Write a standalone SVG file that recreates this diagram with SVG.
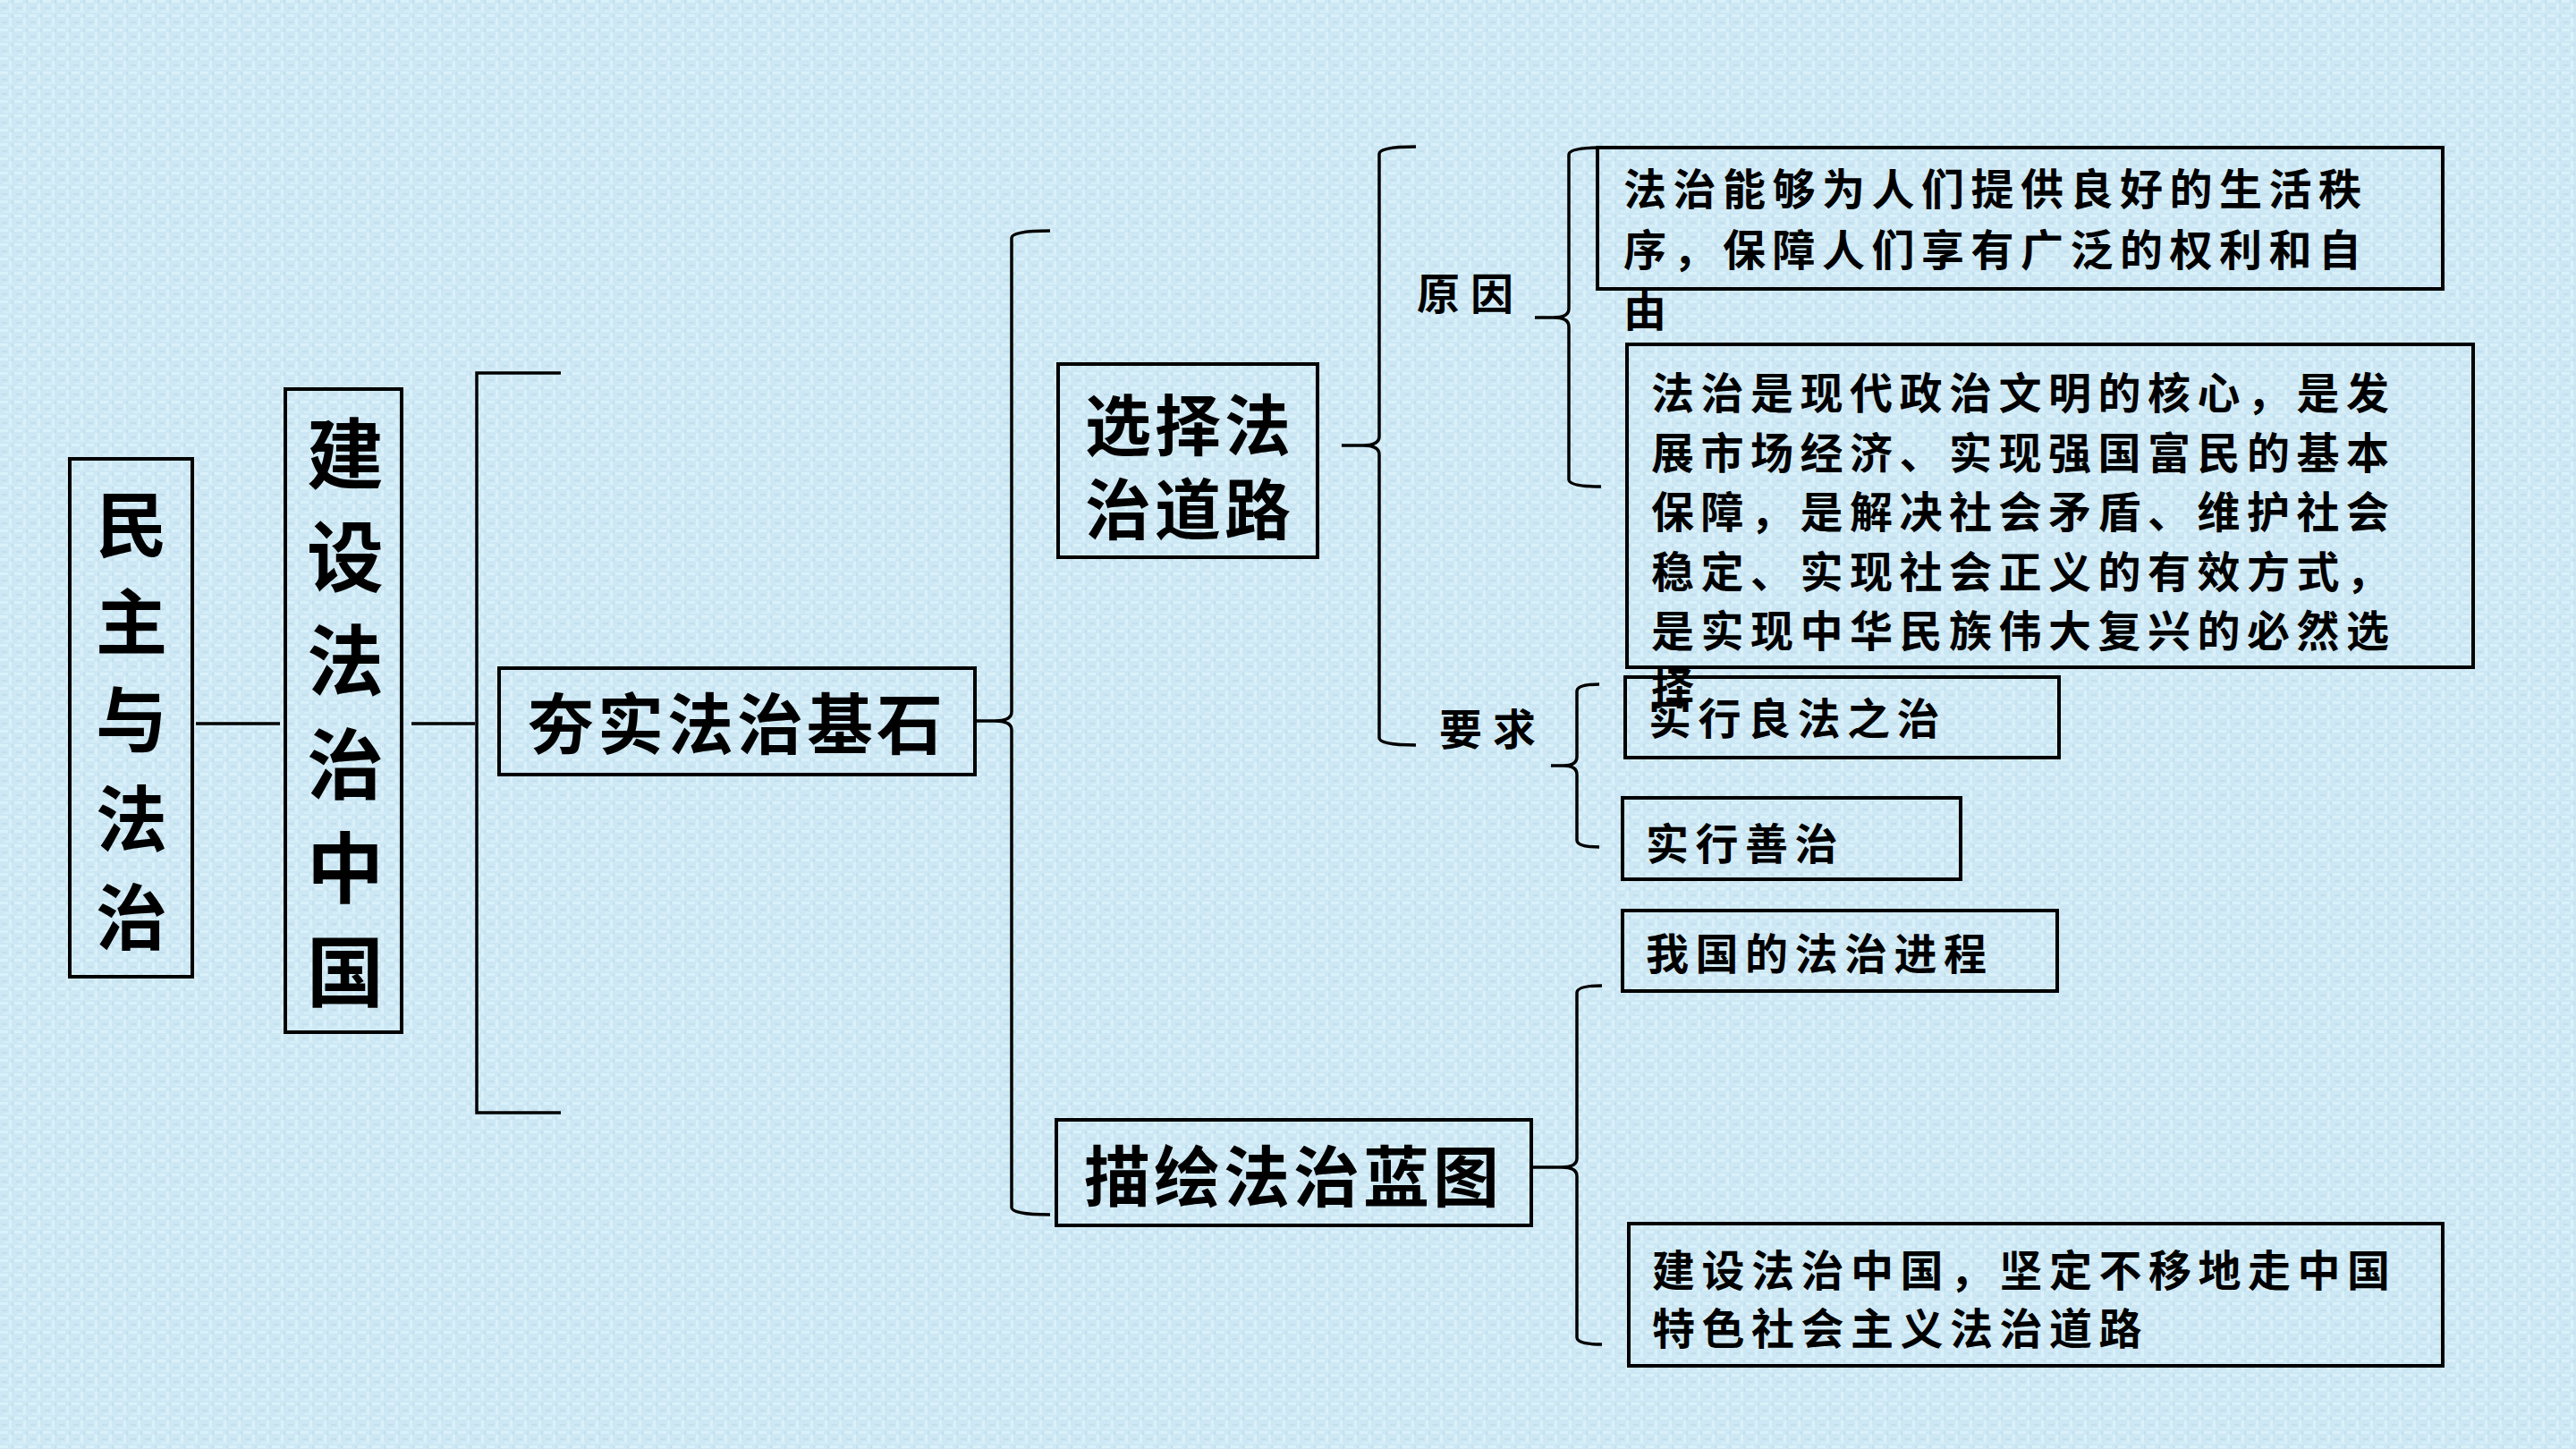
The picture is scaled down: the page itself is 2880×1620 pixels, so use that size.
<svg xmlns="http://www.w3.org/2000/svg" width="2880" height="1620" viewBox="0 0 2880 1620">
<defs>
<pattern id="tex" width="16" height="16" patternUnits="userSpaceOnUse">
<rect width="16" height="16" fill="#cde8f4"/>
<rect x="0" y="0" width="9" height="3" fill="#daf1fa"/>
<rect x="10" y="4" width="3" height="9" fill="#daf1fa"/>
<rect x="2" y="8" width="6" height="2" fill="#c2dfec"/>
<rect x="4" y="12" width="10" height="2" fill="#d6eef8"/>
<rect x="13" y="0" width="2" height="4" fill="#c3e0ee"/>
</pattern>
<style>
.box{fill:none;stroke:#000;stroke-width:4}
.ln{fill:none;stroke:#000;stroke-width:3.5}
.t{font-family:"Noto Sans CJK SC","Noto Sans CJK TC",sans-serif;fill:#000;dominant-baseline:central}
.big{font-size:74px;font-weight:700;letter-spacing:4px}
.vt{font-weight:700;text-anchor:middle}
.mid{text-anchor:middle}
.sm{font-size:48px;font-weight:700;letter-spacing:7.5px}
.lab{font-size:48px;font-weight:700;letter-spacing:12px}
</style>
</defs>
<rect width="2880" height="1620" fill="url(#tex)"/>

<g id="connectors">
<path class="ln" d="M219,809 H313"/>
<path class="ln" d="M460,809 H531"/>
<path class="ln" d="M627,417 H533 V1244 H627"/>
<path class="ln" d="M1174,258 Q1131,258 1131,266 V796 Q1131,806 1112,806 H1090 M1112,806 Q1131,806 1131,816 V1350 Q1131,1358 1174,1358"/>
<path class="ln" d="M1583,164 Q1542,164 1542,172 V488 Q1542,498 1523,498 H1500 M1523,498 Q1542,498 1542,508 V825 Q1542,833 1583,833"/>
<path class="ln" d="M1790,165 Q1754,165 1754,173 V345 Q1754,355 1737,355 H1716 M1737,355 Q1754,355 1754,365 V536 Q1754,544 1790,544"/>
<path class="ln" d="M1788,765 Q1763,765 1763,773 V846 Q1763,856 1748,856 H1734 M1748,856 Q1763,856 1763,866 V939 Q1763,947 1788,947"/>
<path class="ln" d="M1791,1102 Q1763,1102 1763,1110 V1295 Q1763,1305 1746,1305 H1712 M1746,1305 Q1763,1305 1763,1315 V1495 Q1763,1503 1791,1503"/>
</g>

<g id="node-minzhu">
<rect class="box" x="78" y="513" width="137" height="579"/>
<text class="t vt" font-size="80" x="147"><tspan x="147" y="581">民</tspan><tspan x="147" y="690">主</tspan><tspan x="147" y="799">与</tspan><tspan x="147" y="910">法</tspan><tspan x="147" y="1020">治</tspan></text>
</g>

<g id="node-jianshe">
<rect class="box" x="319" y="435" width="130" height="719"/>
<text class="t vt" font-size="86" x="386"><tspan x="386" y="502">建</tspan><tspan x="386" y="617">设</tspan><tspan x="386" y="733">法</tspan><tspan x="386" y="849">治</tspan><tspan x="386" y="965">中</tspan><tspan x="386" y="1081">国</tspan></text>
</g>

<g id="node-hangshi">
<rect class="box" x="558" y="747" width="532" height="119"/>
<text class="t big mid" x="824" y="804">夯实法治基石</text>
</g>

<g id="node-xuanze">
<rect class="box" x="1183" y="407" width="290" height="216"/>
<text class="t big mid" x="1330" y="470">选择法</text>
<text class="t big mid" x="1330" y="564">治道路</text>
</g>

<g id="node-miaohui">
<rect class="box" x="1181" y="1252" width="531" height="118"/>
<text class="t big mid" x="1446" y="1310">描绘法治蓝图</text>
</g>

<g id="label-yuanyin">
<text class="t lab" x="1584" y="325">原因</text>
</g>
<g id="label-yaoqiu">
<text class="t lab" x="1609" y="812">要求</text>
</g>

<g id="node-reason1">
<rect class="box" x="1786" y="165" width="945" height="158"/>
<text class="t sm" x="1815" y="208">法治能够为人们提供良好的生活秩</text>
<text class="t sm" x="1815" y="276">序，保障人们享有广泛的权利和自</text>
<text class="t sm" x="1815" y="344">由</text>
</g>

<g id="node-reason2">
<rect class="box" x="1819" y="385" width="946" height="361"/>
<text class="t sm" x="1846" y="436">法治是现代政治文明的核心，是发</text>
<text class="t sm" x="1846" y="503">展市场经济、实现强国富民的基本</text>
<text class="t sm" x="1846" y="569">保障，是解决社会矛盾、维护社会</text>
<text class="t sm" x="1846" y="636">稳定、实现社会正义的有效方式，</text>
<text class="t sm" x="1846" y="702">是实现中华民族伟大复兴的必然选</text>
<text class="t sm" x="1846" y="766">择</text>
</g>

<g id="node-liangfa">
<rect class="box" x="1817" y="757" width="485" height="90"/>
<text class="t sm" x="1843" y="800">实行良法之治</text>
</g>

<g id="node-shanzhi">
<rect class="box" x="1814" y="892" width="378" height="91"/>
<text class="t sm" x="1840" y="940">实行善治</text>
</g>

<g id="node-jincheng">
<rect class="box" x="1814" y="1018" width="486" height="90"/>
<text class="t sm" x="1840" y="1063">我国的法治进程</text>
</g>

<g id="node-daolu">
<rect class="box" x="1821" y="1368" width="910" height="159"/>
<text class="t sm" x="1847" y="1417">建设法治中国，坚定不移地走中国</text>
<text class="t sm" x="1847" y="1482">特色社会主义法治道路</text>
</g>
</svg>
